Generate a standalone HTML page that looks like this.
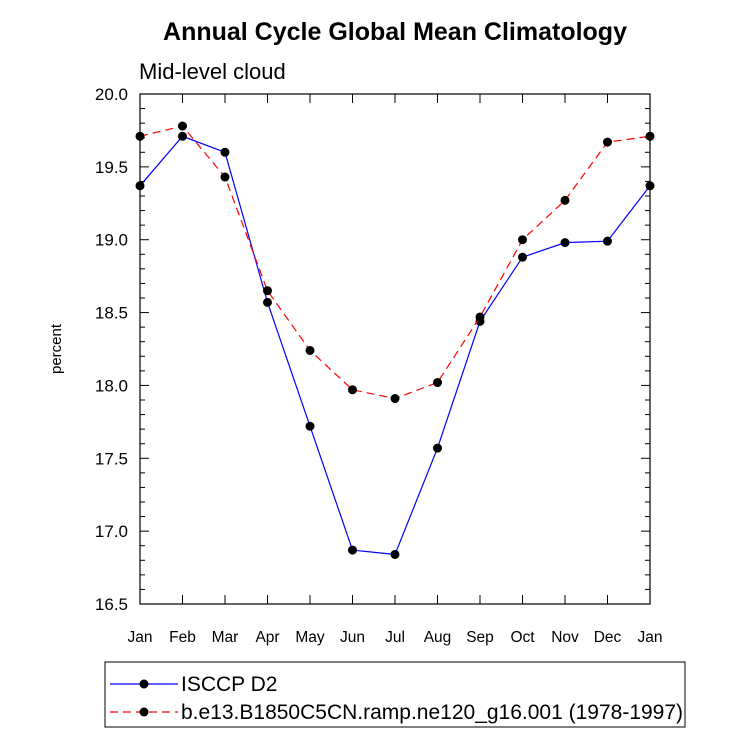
<!DOCTYPE html>
<html><head><meta charset="utf-8"><style>
body{margin:0;background:#fff;width:733px;height:737px;overflow:hidden}
svg{font-family:"Liberation Sans",sans-serif}
</style></head><body>
<svg id="chart" width="733" height="737" xmlns="http://www.w3.org/2000/svg">
<text x="395" y="40" text-anchor="middle" font-size="25" font-weight="bold">Annual Cycle Global Mean Climatology</text>
<text x="139" y="79" font-size="22">Mid-level cloud</text>
<text transform="translate(61,349) rotate(-90)" text-anchor="middle" font-size="15">percent</text>
<g id="axes"></g>
<g id="series"></g>
<rect x="105" y="662" width="580" height="65" fill="none" stroke="#000" stroke-width="1"/>
<line x1="110" y1="684" x2="178" y2="684" stroke="#00f" stroke-width="1.2"/>
<circle cx="144" cy="684" r="4.5" fill="#000"/>
<text x="181" y="691" font-size="21">ISCCP D2</text>
<line x1="110" y1="712" x2="178" y2="712" stroke="#f00" stroke-width="1.2" stroke-dasharray="8,5"/>
<circle cx="144" cy="712" r="4.5" fill="#000"/>
<text x="181" y="719" font-size="21">b.e13.B1850C5CN.ramp.ne120_g16.001 (1978-1997)</text>
</svg>
<script>
const months=["Jan","Feb","Mar","Apr","May","Jun","Jul","Aug","Sep","Oct","Nov","Dec","Jan"];
const isccp=[19.37,19.71,19.60,18.57,17.72,16.87,16.84,17.57,18.44,18.88,18.98,18.99,19.37];
const model=[19.71,19.78,19.43,18.65,18.24,17.97,17.91,18.02,18.47,19.00,19.27,19.67,19.71];
const yTicks=[16.5,17.0,17.5,18.0,18.5,19.0,19.5,20.0];
const X0=140,X1=650,Y0=604,Y1=94,ymin=16.5,ymax=20.0;
const sx=i=>X0+(X1-X0)*i/(months.length-1);
const sy=v=>Y0-(v-ymin)/(ymax-ymin)*(Y0-Y1);
const NS="http://www.w3.org/2000/svg";
function mk(t,a,p){const e=document.createElementNS(NS,t);for(const k in a)e.setAttribute(k,a[k]);p.appendChild(e);return e;}
const ax=document.getElementById('axes');
const fr=mk('rect',{x:X0,y:Y1,width:X1-X0,height:Y0-Y1,fill:'none',stroke:'#000','stroke-width':1.2},ax);


months.forEach((m,i)=>{
 const x=sx(i);
 mk('line',{x1:x,y1:Y0,x2:x,y2:Y0-9,stroke:'#000'},ax);
 mk('line',{x1:x,y1:Y1,x2:x,y2:Y1+9,stroke:'#000'},ax);
 const t=mk('text',{x:x,y:Y0+38,'text-anchor':'middle','font-size':15.5},ax);t.textContent=m;
 
 
});
for(let v=ymin;v<=ymax+1e-6;v+=0.1){
 const y=sy(v);const maj=Math.abs(v*2-Math.round(v*2))<1e-6;const L=maj?9:5;
 mk('line',{x1:X0,y1:y,x2:X0+L,y2:y,stroke:'#000'},ax);
 mk('line',{x1:X1,y1:y,x2:X1-L,y2:y,stroke:'#000'},ax);
}
yTicks.forEach(v=>{
 const t=mk('text',{x:X0-12,y:sy(v)+6,'text-anchor':'end','font-size':17},ax);t.textContent=v.toFixed(1);
 
 
});
const sg=document.getElementById('series');
function draw(vals,color,dash,name){
 const pl=mk('polyline',{points:vals.map((v,i)=>sx(i)+','+sy(v)).join(' '),fill:'none',stroke:color,'stroke-width':1.2,'stroke-dasharray':dash},sg);
 
 
 vals.forEach((v,i)=>{const c=mk('circle',{cx:sx(i),cy:sy(v),r:4.5,fill:'#000'},sg);
 
 });
}
draw(isccp,'#00f','none','isccp');
draw(model,'#f00','8,5','model');
</script>
</body></html>
